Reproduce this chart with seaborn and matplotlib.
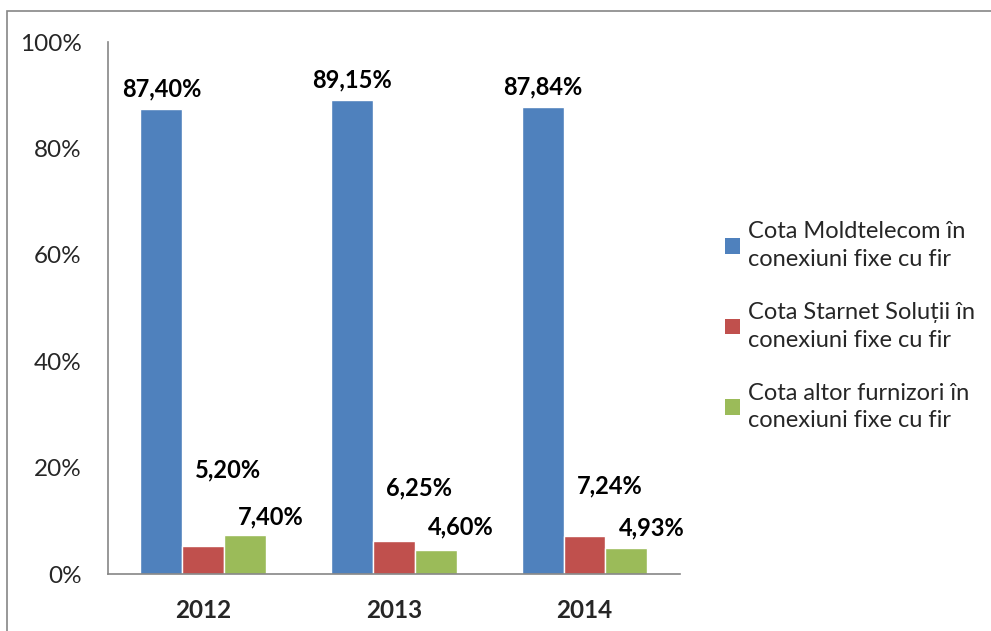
import pandas as pd
import matplotlib.pyplot as plt
import seaborn as sns
from matplotlib.patches import Patch, Rectangle

years = ["2012", "2013", "2014"]
series = ["Cota Moldtelecom în\nconexiuni fixe cu fir",
          "Cota Starnet Soluții în\nconexiuni fixe cu fir",
          "Cota altor furnizori în\nconexiuni fixe cu fir"]
moldtelecom = [87.40, 89.15, 87.84]
starnet = [5.20, 6.25, 7.24]
altii = [7.40, 4.60, 4.93]

# how far each label centre sits above its bar (percentage points), as in the original
label_lift = [[3.8, 3.8, 3.8], [14.3, 9.9, 9.3], [3.3, 4.2, 3.7]]

colors = ["#4F81BD", "#C0504D", "#9BBB59"]
AXIS_GRAY = "#868686"

sns.set_theme(style="white")
plt.rcParams['font.family'] = ['Lato', 'DejaVu Sans']

df = pd.DataFrame({
    "year": years * 3,
    "value": moldtelecom + starnet + altii,
    "series": [s for s in series for _ in years],
})

fig = plt.figure(figsize=(9.91, 6.31), dpi=100)
ax = fig.add_axes([0.109, 0.0903, 0.577, 0.8431])

sns.barplot(data=df, x="year", y="value", hue="series", palette=colors,
            width=0.66, gap=0, saturation=1, ax=ax, legend=False, errorbar=None)

ax.set_ylim(0, 100)
ax.set_xlim(-0.5, 2.5)
ax.set_yticks([0, 20, 40, 60, 80, 100])
ax.set_yticklabels([f"{t}%" for t in [0, 20, 40, 60, 80, 100]], fontsize=17.5)
ax.set_xticks([0, 1, 2])
ax.set_xticklabels(years, fontsize=17.5, fontweight='bold')
ax.set_xlabel("")
ax.set_ylabel("")

# ticks at category boundaries like Excel
ax.set_xticks([-0.5, 0.5, 1.5, 2.5], minor=True)
ax.tick_params(axis='x', which='major', length=0, pad=18)
ax.tick_params(axis='x', which='minor', length=9, color=AXIS_GRAY, direction='out', width=1.2)
ax.tick_params(axis='y', length=8, color=AXIS_GRAY, direction='out', width=1.2, pad=11)

for side in ["top", "right"]:
    ax.spines[side].set_visible(False)
for side in ["left", "bottom"]:
    ax.spines[side].set_color(AXIS_GRAY)
    ax.spines[side].set_linewidth(1.2)

# data labels
for k, containers in enumerate(ax.containers):
    for j, bar in enumerate(containers):
        val = bar.get_height()
        xc = bar.get_x() + bar.get_width() / 2
        if k > 0:
            xc += bar.get_width() * 0.6
        ax.text(xc, val + label_lift[k][j], f"{val:.2f}%".replace(".", ","),
                ha='center', va='center', fontsize=17, fontweight='bold', color='black')

handles = [Patch(facecolor=c, edgecolor='none') for c in colors]
leg = fig.legend(handles, series, loc='center left', bbox_to_anchor=(0.71, 0.483),
                 frameon=False, fontsize=17, handlelength=0.65, handleheight=0.65,
                 handletextpad=0.35, labelspacing=1.35)
for t in leg.get_texts():
    t.set_linespacing(1.4)

# outer border of the chart area
fig.patches.append(Rectangle((7 / 991, -0.05), 1.2, 1 - 11 / 631 + 0.05,
                             transform=fig.transFigure, fill=False,
                             edgecolor=AXIS_GRAY, linewidth=1.2))

plt.savefig("out.png", dpi=100)
